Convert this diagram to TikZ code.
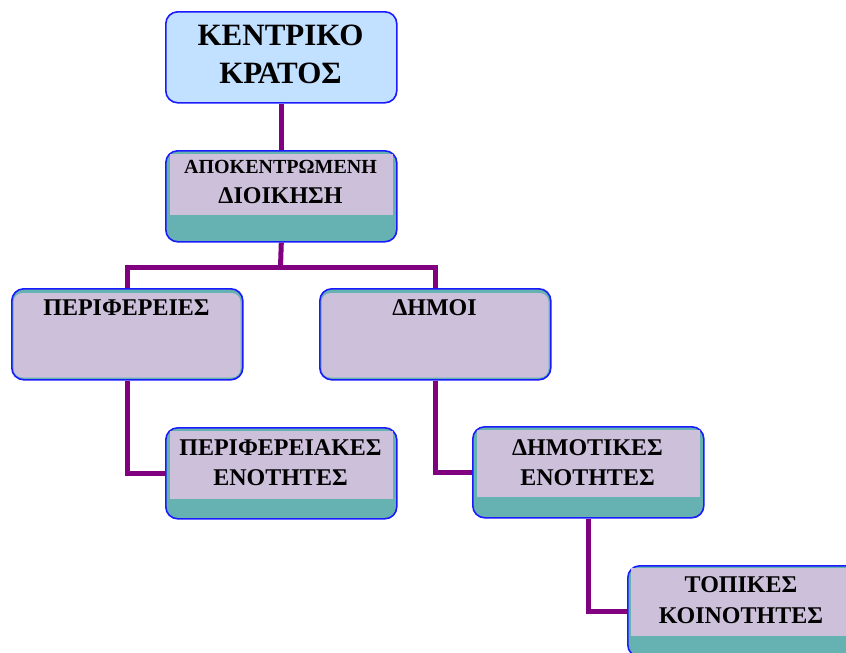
\documentclass[tikz,border=0pt]{standalone}
\usepackage{fontspec}
\setmainfont{Liberation Serif}
\usetikzlibrary{calc}
\definecolor{lblue}{HTML}{C2E0FF}
\definecolor{tealb}{HTML}{66B2B2}
\definecolor{lav}{HTML}{CCC0DA}
\definecolor{bord}{HTML}{1A1AFF}
\definecolor{conn}{HTML}{800080}
\begin{document}
\begin{tikzpicture}[x=1pt,y=-1pt,
  box/.style={draw=bord, line width=1.6pt, rounded corners=12pt, fill=tealb,
    inner sep=0pt, anchor=north west, minimum width=231pt, minimum height=91pt},
  link/.style={draw=conn, line width=5pt},
  lbl/.style={font=\bfseries\fontsize{24}{30}\selectfont, inner sep=0pt, anchor=base},
  big/.style={font=\bfseries\fontsize{31}{38}\selectfont, inner sep=0pt, anchor=base}]
\useasboundingbox (0,0) rectangle (846,653);
\coordinate (j) at (280.5,267);
% boxes
\node[box, fill=lblue] (b1) at (165,11) {};
\node[box] (b2) at (165,150) {};
\node[box] (b3) at (11,288) {};
\node[box] (b4) at (319,288) {};
\node[box] (b5) at (165,427) {};
\node[box] (b6) at (472,426) {};
\node[box] (b7) at (627,565) {};
% inner panels
\fill[lav] ($(b2.north west)+(5,4)$) rectangle ($(b2.south east)+(-5,-28)$);
\fill[lav, rounded corners=9pt] ($(b3.north west)+(2.5,5)$) rectangle ($(b3.south east)+(-3,-3)$);
\fill[lav, rounded corners=9pt] ($(b4.north west)+(2.5,5)$) rectangle ($(b4.south east)+(-3,-3)$);
\fill[lav] ($(b5.north west)+(5,4)$) rectangle ($(b5.south east)+(-5,-21)$);
\fill[lav] ($(b6.north west)+(5,4)$) rectangle ($(b6.south east)+(-5,-22)$);
\fill[lav] ($(b7.north west)+(4,3)$) rectangle ($(b7.south east)+(-5,-22)$);
% texts
\node[big] (t1a) at (280.5,45) {ΚΕΝΤΡΙΚΟ};
\node[big] (t1b) at (280.5,83) {ΚΡΑΤΟΣ};
\node[lbl, font=\bfseries\fontsize{20}{24}\selectfont] (t2a) at (280.5,173) {ΑΠΟΚΕΝΤΡΩΜΕΝΗ};
\node[lbl] (t2b) at (280.5,203) {ΔΙΟΙΚΗΣΗ};
\node[lbl] (t3) at (126.5,315) {ΠΕΡΙΦΕΡΕΙΕΣ};
\node[lbl] (t4) at (434.5,315) {ΔΗΜΟΙ};
\node[lbl] (t5a) at (280.5,455) {ΠΕΡΙΦΕΡΕΙΑΚΕΣ};
\node[lbl] (t5b) at (280.5,485) {ΕΝΟΤΗΤΕΣ};
\node[lbl] (t6a) at (587.5,455) {ΔΗΜΟΤΙΚΕΣ};
\node[lbl] (t6b) at (587.5,485) {ΕΝΟΤΗΤΕΣ};
\node[lbl] (t7a) at (741,592) {ΤΟΠΙΚΕΣ};
\node[lbl] (t7b) at (741,623) {ΚΟΙΝΟΤΗΤΕΣ};
% links
\draw[link] (b1.south) -- (b2.north);
\draw[link] (b2.south) -- (j);
\draw[link] (b3.north) |- (j) -| (b4.north);
\draw[link] (b3.south) |- (b5.west);
\draw[link] (b4.south) |- (b6.west);
\draw[link] (b6.south) |- (b7.west);
\end{tikzpicture}
\end{document}
